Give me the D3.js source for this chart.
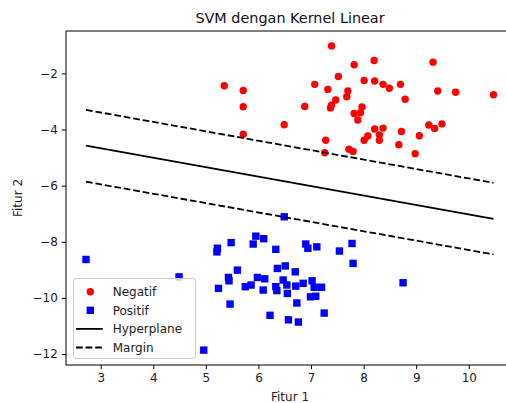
<!DOCTYPE html>
<html>
<head>
<meta charset="utf-8">
<script src="https://cdn.jsdelivr.net/npm/d3@7"></script>
<style>
  body { margin: 0; background: #fff; overflow: hidden; }
  svg { display: block; font-family: "DejaVu Sans", sans-serif; }
</style>
</head>
<body>
<div id="chart"></div>
<script>
// red class (Negatif)
const negX = [7.39, 7.82, 8.20, 9.32, 5.35, 5.71, 5.71, 5.71, 6.49, 6.88, 7.07, 7.32, 7.52, 7.70, 7.68, 7.47,
  7.39, 7.37, 8.01, 8.21, 8.37, 8.49, 8.70, 8.79, 9.41, 9.75, 10.47, 7.97, 7.82, 7.94, 7.89, 8.21,
  8.37, 8.30, 8.30, 8.08, 8.01, 8.72, 8.67, 9.06, 9.24, 9.35, 9.49, 7.28, 7.26, 7.72, 7.80, 8.98];
const negY = [-1.02, -1.69, -1.54, -1.60, -2.44, -2.61, -3.19, -4.17, -3.83, -3.18, -2.39, -2.57, -2.11, -2.63, -2.83, -2.95,
  -3.13, -3.23, -2.25, -2.27, -2.39, -2.53, -2.39, -2.92, -2.63, -2.67, -2.76, -3.20, -3.43, -3.40, -3.66, -3.98,
  -3.95, -4.19, -4.38, -4.23, -4.38, -4.07, -4.54, -4.22, -3.84, -3.96, -3.80, -4.38, -4.83, -4.70, -4.78, -4.86];

// blue class (Positif)
const posX = [2.72, 4.49, 4.96, 5.22, 5.21, 5.48, 5.24, 5.46, 5.43, 5.44, 5.60, 5.75, 5.86, 5.98, 6.12, 6.09,
  5.90, 5.95, 6.10, 6.33, 6.49, 6.36, 6.51, 6.70, 6.33, 6.35, 6.47, 6.54, 6.55, 6.71, 6.85, 7.02,
  7.06, 7.20, 6.99, 7.09, 6.73, 6.22, 6.57, 6.76, 7.25, 6.90, 6.94, 7.11, 7.54, 7.78, 7.80, 8.75];
const posY = [-8.63, -9.25, -11.86, -8.23, -8.36, -8.03, -9.66, -10.22, -9.27, -9.39, -9.01, -9.60, -9.54, -9.27, -9.32, -9.72,
  -8.08, -7.80, -7.89, -8.27, -7.11, -8.95, -8.86, -9.07, -9.60, -9.74, -9.36, -9.54, -9.84, -9.58, -9.48, -9.39,
  -9.62, -9.62, -9.96, -9.94, -10.18, -10.62, -10.78, -10.86, -10.54, -8.08, -8.23, -8.18, -8.33, -8.06, -8.77, -9.46];

// hyperplane and margins, read at both ends
const lineX = [2.72, 10.47];
const hyperY = [-4.57, -7.18];
const marginUpY = [-3.30, -5.90];
const marginDownY = [-5.86, -8.45];

const xTicks = [3, 4, 5, 6, 7, 8, 9, 10];
const yTicks = [-12, -10, -8, -6, -4, -2];

const W = 506, H = 403;
let margin = {top: 31, left: 66},
    width = 448,
    height = 334;

let x = d3.scaleLinear().domain([2.34, 10.86]).range([0, width]);
let y = d3.scaleLinear().domain([-12.39, -0.49]).range([height, 0]);

const svg0 = d3.select("#chart").append("svg")
    .attr("width", W)
    .attr("height", H);

const svg = svg0.append("g")
    .attr("transform", "translate(" + margin.left + "," + margin.top + ")");

const fmt = d => String(d).replace("-", "\u2212");

// axes
const xAxis = svg.append("g")
    .attr("transform", "translate(0," + height + ")")
    .call(d3.axisBottom(x).tickValues(xTicks).tickFormat(fmt).tickSize(4.2).tickPadding(4));
const yAxis = svg.append("g")
    .call(d3.axisLeft(y).tickValues(yTicks).tickFormat(fmt).tickSize(4.2).tickPadding(4));

[xAxis, yAxis].forEach(a => {
    a.select(".domain").remove();
    a.selectAll("line").attr("stroke", "#000").attr("stroke-width", 1);
    a.selectAll("text").attr("fill", "#222").style("font-size", "12px")
        .style("font-family", "DejaVu Sans, sans-serif");
});

// frame
svg.append("rect")
    .attr("x", 0).attr("y", 0)
    .attr("width", width).attr("height", height)
    .attr("fill", "none")
    .attr("stroke", "#000")
    .attr("stroke-width", 1);

const clip = svg.append("g");

// points
clip.selectAll(".neg")
    .data(negX.map((v, i) => [v, negY[i]]))
    .enter().append("circle")
    .attr("class", "neg")
    .attr("cx", d => x(d[0]))
    .attr("cy", d => y(d[1]))
    .attr("r", 3.7)
    .attr("fill", "red");

const sq = 7.4;
clip.selectAll(".pos")
    .data(posX.map((v, i) => [v, posY[i]]))
    .enter().append("rect")
    .attr("class", "pos")
    .attr("x", d => x(d[0]) - sq / 2)
    .attr("y", d => y(d[1]) - sq / 2)
    .attr("width", sq)
    .attr("height", sq)
    .attr("fill", "blue");

// lines
const line = d3.line().x(d => x(d[0])).y(d => y(d[1]));
function drawLine(ys, dashed) {
    clip.append("path")
        .datum(lineX.map((v, i) => [v, ys[i]]))
        .attr("d", line)
        .attr("fill", "none")
        .attr("stroke", "#000")
        .attr("stroke-width", 1.8)
        .attr("stroke-dasharray", dashed ? "6.7,2.9" : null);
}
drawLine(hyperY, false);
drawLine(marginUpY, true);
drawLine(marginDownY, true);

// title and labels
svg0.append("text")
    .attr("x", margin.left + width / 2)
    .attr("y", 23)
    .attr("text-anchor", "middle")
    .style("font-size", "14.4px")
    .attr("fill", "#111")
    .text("SVM dengan Kernel Linear");

svg0.append("text")
    .attr("x", margin.left + width / 2)
    .attr("y", 401)
    .attr("text-anchor", "middle")
    .style("font-size", "12px")
    .attr("fill", "#222")
    .text("Fitur 1");

svg0.append("text")
    .attr("transform", "translate(22," + (margin.top + height / 2) + ") rotate(-90)")
    .attr("text-anchor", "middle")
    .style("font-size", "12px")
    .attr("fill", "#222")
    .text("Fitur 2");

// legend
const leg = svg0.append("g").attr("transform", "translate(73.5,278.5)");
leg.append("rect")
    .attr("width", 122).attr("height", 80)
    .attr("rx", 2.5)
    .attr("fill", "rgba(255,255,255,0.8)")
    .attr("stroke", "#ccc")
    .attr("stroke-width", 1);

const items = ["Negatif", "Positif", "Hyperplane", "Margin"];
items.forEach((name, i) => {
    const cy = 13.2 + i * 18.6;
    if (i === 0) {
        leg.append("circle").attr("cx", 16.8).attr("cy", cy).attr("r", 3.7).attr("fill", "red");
    } else if (i === 1) {
        leg.append("rect").attr("x", 16.8 - sq / 2).attr("y", cy - sq / 2)
            .attr("width", sq).attr("height", sq).attr("fill", "blue");
    } else {
        leg.append("line")
            .attr("x1", 2.5).attr("x2", 29.2)
            .attr("y1", cy).attr("y2", cy)
            .attr("stroke", "#000").attr("stroke-width", 1.8)
            .attr("stroke-dasharray", i === 3 ? "6.7,2.9" : null);
    }
    leg.append("text")
        .attr("x", 39.2)
        .attr("y", cy + 4.3)
        .style("font-size", "12px")
        .attr("fill", "#222")
        .text(name);
});
</script>
</body>
</html>
